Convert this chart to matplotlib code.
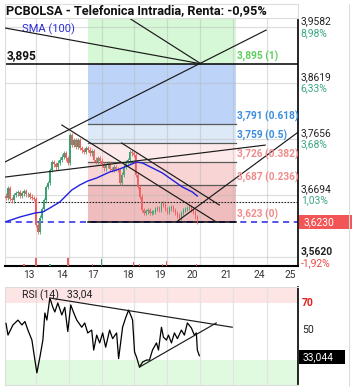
import numpy as np
import matplotlib
matplotlib.use("Agg")
import matplotlib.pyplot as plt
from matplotlib.patches import Rectangle

plt.rcParams['font.family'] = ['Roboto', 'DejaVu Sans']

# ---- data ----
closes = [3.664, 3.681, 3.662, 3.660, 3.669, 3.672, 3.674, 3.668, 3.672, 3.676,
          3.670, 3.671, 3.666, 3.664, 3.662, 3.618, 3.606, 3.630, 3.645, 3.660,
          3.683, 3.690, 3.712, 3.726, 3.722, 3.717, 3.725, 3.730, 3.735, 3.741,
          3.732, 3.724, 3.772, 3.755, 3.764, 3.752, 3.763, 3.750, 3.746, 3.743,
          3.750, 3.747, 3.741, 3.745, 3.730, 3.726, 3.733, 3.728, 3.722, 3.715,
          3.720, 3.724, 3.714, 3.712, 3.717, 3.714, 3.712, 3.690, 3.704, 3.718,
          3.726, 3.729, 3.743, 3.741, 3.738, 3.704, 3.683, 3.666, 3.643, 3.638,
          3.641, 3.643, 3.638, 3.640, 3.640, 3.645, 3.647, 3.643, 3.655, 3.652,
          3.645, 3.640, 3.646, 3.648, 3.643, 3.638, 3.634, 3.630, 3.638, 3.643,
          3.645, 3.647, 3.648, 3.644, 3.640, 3.631, 3.623]
first_open = 3.668

sma_x = [-0.5, 7, 14.5, 18.5, 22, 27, 33, 37, 41, 45.5, 52, 57, 62, 65.5, 68.5,
         73.5, 78.5, 83.5, 88.5, 93.5, 96]
sma_val = [3.6227, 3.6313, 3.6381, 3.6399, 3.6467, 3.6571, 3.6777, 3.6863, 3.6932,
           3.6984, 3.7087, 3.7139, 3.7208, 3.7259, 3.7242, 3.7156, 3.7070, 3.6949,
           3.6829, 3.6743, 3.6674]

vol_x = [9, 15, 22, 31, 43.5, 48, 64, 67, 78.5, 80.5, 95.5]
vol_val = [2, 8, 2, 8, 2, 7, 4, 2, 2, 5, 2]
vol_up = [False, False, True, False, False, True, False, False, False, False, False]

rsi_x = [0, 1, 3.5, 6, 8, 9.5, 11, 13, 14.5, 15.5, 17, 18.5, 19.5, 20.5, 22, 23.5,
         24.5, 26, 28, 29.5, 31, 32.5, 34, 35.5, 38, 39.5, 41, 43, 44, 45.5, 47,
         48.5, 50, 52, 53.5, 55.5, 56.5, 58.5, 60, 61.5, 63, 63.5, 64.5, 65.5, 67,
         68.5, 70.5, 72, 73.5, 75.5, 76.5, 78, 79, 80.5, 81.5, 83, 84.5, 86, 88,
         89.5, 91, 93, 94.5, 95.5, 96, 97]
rsi_val = [55.7, 47.5, 54.6, 58, 54.6, 57, 51, 44, 30, 21, 32, 44, 63, 58, 73.5, 67,
           63.7, 70, 61.6, 67, 50, 68.6, 63, 58, 53, 56, 49, 51, 37, 47.5, 42,
           49, 39, 51, 45, 49, 31, 53, 59.5, 65, 60, 58, 35.6, 32, 25,
           28.6, 30, 30, 37, 42, 37, 53, 46, 44, 47.5, 42, 49, 45, 51,
           47.5, 56, 52.5, 47.5, 49, 37, 33]

fib_levels = [3.895, 3.791, 3.759, 3.726, 3.687, 3.623]
fib_ratios = ['1', '0.618', '0.5', '0.382', '0.236', '0']
fib_text_colors = ['#5ccf5c', '#3a8de0', '#3a8de0', '#f08c8c', '#f08c8c', '#f08c8c']
fib_band_colors = ['#d6f8d6', '#bdd4f8', '#dee9f8', '#fde9e9', '#f9d4d4', '#efbdbd']
fib_start, fib_end = 41, 115.5

# trend lines (start / end points in bar index, price)
trend_lines = [((-0.5, 3.9566), (97.8, 3.895)),
               ((62.5, 3.9721), (97.8, 3.895)),
               ((-0.5, 3.726), (130.5, 3.953)),
               ((-0.5, 3.700), (130.0, 3.755)),
               ((28.0, 3.7896), (105.5, 3.6227)),
               ((58.0, 3.7586), (107.0, 3.652)),
               ((85.5, 3.6227), (150.0, 3.786))]
rsi_lines = [((22, 73.5), (113.5, 53)), ((67, 25.1), (105.5, 56))]

axis_vals = [3.9582, 3.8619, 3.7656, 3.6694, 3.5620]
axis_pcts = ['8,98%', '6,33%', '3,68%', '1,03%', '-1,92%']

day_bounds = [15, 31.7, 48, 64.3, 80.7, 97.2, 114, 130.8]
day_label_pos = [11.7, 28, 43.8, 61.1, 77.3, 93.7, 110.7, 127.1, 142.5]
day_labels = ['13', '14', '17', '18', '19', '20', '21', '24', '25']

last_price = 3.623
prev_close = 3.657
level_3895 = 3.895
rsi_last = 33.044

W, H = 353, 390
fig = plt.figure(figsize=(W / 100, H / 100), dpi=100)


def fbox(x0, y0, x1, y1):
    # pixel box with top-left origin -> figure fraction rect
    return [x0 / W, 1 - y1 / H, (x1 - x0) / W, (y1 - y0) / H]


ax = fig.add_axes(fbox(5, 18, 298, 266))
vx = fig.add_axes(fbox(5, 255, 298, 266))
rx = fig.add_axes(fbox(5, 287, 298, 385))
XMIN, XMAX = -0.5, 146.5
YMIN, YMAX = 3.5469, 3.9738
ax.set_xlim(XMIN, XMAX)
ax.set_ylim(YMIN, YMAX)

GREEN, RED = '#3aa374', '#f25c5c'
LGRID = '#e3e3e3'

# fibonacci bands
tops = [YMAX] + fib_levels[:-1]
for top, bot, col in zip(tops, fib_levels, fib_band_colors):
    ax.fill_between([fib_start, fib_end], bot, top, color=col, lw=0, zorder=0.2)
for lev in fib_levels[1:-1]:
    ax.plot([fib_start, fib_end], [lev, lev], color='#5a5a5a', lw=0.9, zorder=1)
for lev, r, c in zip(fib_levels, fib_ratios, fib_text_colors):
    ax.annotate(f"{lev:.3f}".replace('.', ',') + f" ({r})", xy=(fib_end, lev),
                xytext=(0.5, 1.5), textcoords='offset points', color=c,
                fontsize=7.3, fontweight='bold', va='bottom', ha='left', zorder=6,
                annotation_clip=False)

# grid
for b in day_bounds:
    ax.axvline(b, color='#b8b8b8', alpha=0.45, lw=0.9, zorder=0.5)
    rx.axvline(b, color=LGRID, lw=0.9, zorder=0.5)
for v in axis_vals:
    ax.axhline(v, color='#b8b8b8', alpha=0.45, lw=0.9, zorder=0.5)

# reference lines
ax.axhline(last_price, color='#2424e6', lw=1.1, dashes=(4, 3), zorder=2)
ax.plot([fib_start, fib_end], [last_price, last_price], color='black', lw=1.1, zorder=2.1)
ax.axhline(prev_close, color='#222222', lw=0.8, ls=(0, (1.5, 1.2)), zorder=2)
ax.axhline(level_3895, color='black', lw=1.1, zorder=2)
ax.annotate('3,895', xy=(0, level_3895), xycoords=('axes fraction', 'data'),
            xytext=(1.5, 1.5), textcoords='offset points', fontsize=8.6,
            fontweight='bold', va='bottom', ha='left', color='#111111')

# candles
opens = [first_open] + closes[:-1]
xs = np.arange(len(closes))
o = np.array(opens)
c = np.array(closes)
cols = [GREEN if cc >= oo else RED for oo, cc in zip(o, c)]
hi = np.maximum(o, c) + 0.004
lo = np.minimum(o, c) - 0.004
ax.vlines(xs, lo, hi, colors=cols, lw=0.6, zorder=3)
body = np.where(np.abs(c - o) < 0.0015, 0.0015, c - o)
ax.bar(xs, body, bottom=o, width=0.8, color=cols, lw=0, zorder=3)

# SMA
ax.plot(sma_x, sma_val, color='#2020e0', lw=1.0, zorder=4)
ax.text(0.058, 0.955, 'SMA (100)', transform=ax.transAxes, color='#2b2bd9',
        fontsize=8, va='center', ha='left')

# trend lines
for (x0, y0), (x1, y1) in trend_lines:
    ax.plot([x0, x1], [y0, y1], color='#1a1a1a', lw=0.85, zorder=5)

# right axis labels
for v, p in zip(axis_vals, axis_pcts):
    wt = 'bold' if v == axis_vals[-1] else 'normal'
    ax.annotate(f"{v:.4f}".replace('.', ','), xy=(1, v), xycoords=('axes fraction', 'data'),
                xytext=(2, 0.5), textcoords='offset points', fontsize=7.4,
                color='#222222', va='bottom', ha='left', fontweight=wt, annotation_clip=False)
    ax.annotate(p, xy=(1, v), xycoords=('axes fraction', 'data'),
                xytext=(2, -0.5), textcoords='offset points', fontsize=7.4,
                color='#f04848' if p.startswith('-') else '#3aa67f', va='top', ha='left',
                annotation_clip=False)

# current price tag
fig.patches.append(Rectangle((299 / W, 1 - 229 / H), 53 / W, 14 / H, transform=fig.transFigure,
                             facecolor='#f25555', edgecolor='none', zorder=-1))
ax.annotate(f"{last_price:.4f}".replace('.', ','), xy=(1, last_price),
            xycoords=('axes fraction', 'data'), xytext=(4, 0), textcoords='offset points',
            fontsize=7.4, color='white', va='center', ha='left', annotation_clip=False)

ax.set_xticks(day_label_pos)
ax.set_xticklabels(day_labels, fontsize=7.4, color='#333333')
ax.tick_params(axis='x', length=0, pad=3)
ax.set_yticks([])
for s in ['left', 'top']:
    ax.spines[s].set_color('#dddddd')
ax.spines['right'].set_color('black')
ax.spines['right'].set_linewidth(1.2)
ax.spines['bottom'].set_color('black')
ax.spines['bottom'].set_linewidth(1.5)

# volume
vx.bar(vol_x, vol_val, width=0.8, color=[GREEN if u else RED for u in vol_up], lw=0)
vx.set_ylim(0, 11)
vx.set_xlim(XMIN, XMAX)
vx.axis('off')
vx.patch.set_alpha(0)

# RSI
rx.set_xlim(XMIN, XMAX)
rx.set_ylim(12.5, 81.2)
rx.axhspan(70, 81.2, color='#fde5e5', lw=0, zorder=0.2)
rx.axhspan(12.5, 30, color='#e0fae0', lw=0, zorder=0.2)
rx.plot(rsi_x, rsi_val, color='black', lw=0.9, zorder=3)
for (x0, y0), (x1, y1) in rsi_lines:
    rx.plot([x0, x1], [y0, y1], color='#1a1a1a', lw=0.85, zorder=4)
rx.text(0.058, 0.915, 'RSI (14)   33,04', transform=rx.transAxes, fontsize=7.6,
        color='#222222', va='center', ha='left', zorder=5)
rx.annotate('70', xy=(1, 70), xycoords=('axes fraction', 'data'), xytext=(3, 0),
            textcoords='offset points', fontsize=7.6, color='#e81e1e', fontweight='bold',
            va='center', ha='left', annotation_clip=False)
rx.annotate('50', xy=(1, 50), xycoords=('axes fraction', 'data'), xytext=(3, 1),
            textcoords='offset points', fontsize=7.6, color='#222222',
            va='center', ha='left', annotation_clip=False)
fig.patches.append(Rectangle((299 / W, 1 - 364 / H), 46 / W, 14 / H, transform=fig.transFigure,
                             facecolor='black', edgecolor='none', zorder=-1))
rx.annotate(f"{rsi_last:.3f}".replace('.', ','), xy=(1, rsi_last),
            xycoords=('axes fraction', 'data'), xytext=(3, -1),
            textcoords='offset points', fontsize=7.4, color='white',
            va='center', ha='left', annotation_clip=False)
rx.set_xticks([])
rx.set_yticks([])
for s in ['left', 'top', 'bottom']:
    rx.spines[s].set_color('#dddddd')
rx.spines['right'].set_color('black')
rx.spines['right'].set_linewidth(1.2)

# title bar and outer frame
fig.patches.append(Rectangle((5 / W, 1 - 18 / H), 293 / W, 14 / H, transform=fig.transFigure,
                             facecolor='white', edgecolor='#dddddd', lw=0.8))
fig.text(6 / W, 1 - 11 / H, 'PCBOLSA - Telefonica Intradia, Renta: -0,95%',
         fontsize=9.2, fontweight='bold', color='#111111', va='center', ha='left')
fig.add_artist(plt.Line2D([349 / W, 349 / W], [1 - 4 / H, 1 - 386 / H],
                          transform=fig.transFigure, color='#dddddd', lw=0.8))

fig.savefig('out.png', dpi=100)
